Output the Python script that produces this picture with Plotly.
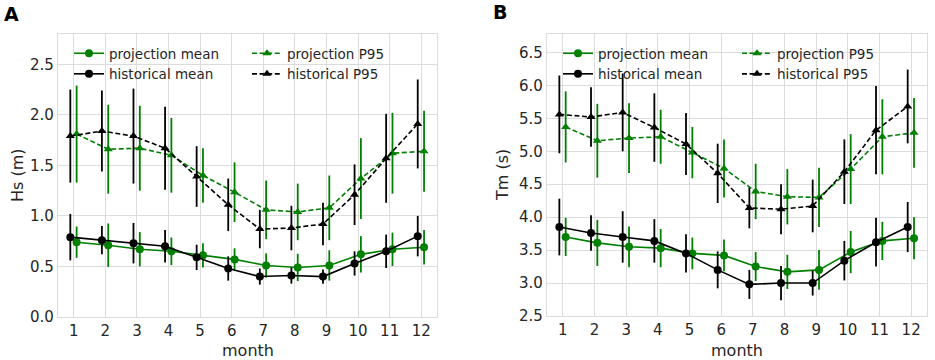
import plotly.graph_objects as go

months = list(range(1, 13))

# Panel A: Hs (m)
hs_hist_mean = [0.79, 0.76, 0.73, 0.70, 0.59, 0.48, 0.40, 0.41, 0.40, 0.53, 0.65, 0.80]
hs_hist_mean_err = [0.23, 0.14, 0.20, 0.16, 0.125, 0.12, 0.08, 0.08, 0.07, 0.12, 0.165, 0.20]
hs_proj_mean = [0.74, 0.71, 0.67, 0.65, 0.61, 0.57, 0.51, 0.49, 0.51, 0.62, 0.67, 0.69]
hs_proj_mean_err = [0.155, 0.215, 0.17, 0.137, 0.12, 0.11, 0.12, 0.135, 0.15, 0.18, 0.165, 0.17]
hs_hist_p95 = [1.79, 1.84, 1.79, 1.67, 1.39, 1.11, 0.87, 0.88, 0.92, 1.21, 1.57, 1.91]
hs_hist_p95_err = [0.46, 0.40, 0.47, 0.41, 0.30, 0.26, 0.19, 0.22, 0.21, 0.30, 0.44, 0.44]
hs_proj_p95 = [1.81, 1.66, 1.67, 1.60, 1.40, 1.235, 1.06, 1.04, 1.08, 1.37, 1.62, 1.64]
hs_proj_p95_err = [0.48, 0.44, 0.42, 0.37, 0.27, 0.295, 0.29, 0.28, 0.32, 0.40, 0.40, 0.40]

# Panel B: Tm (s)
tm_hist_mean = [3.85, 3.76, 3.70, 3.64, 3.45, 3.20, 2.98, 3.00, 3.00, 3.34, 3.62, 3.85]
tm_hist_mean_err = [0.43, 0.27, 0.39, 0.33, 0.29, 0.28, 0.22, 0.26, 0.19, 0.30, 0.37, 0.38]
tm_proj_mean = [3.70, 3.61, 3.55, 3.53, 3.45, 3.42, 3.25, 3.17, 3.20, 3.47, 3.64, 3.68]
tm_proj_mean_err = [0.29, 0.35, 0.31, 0.29, 0.24, 0.24, 0.22, 0.26, 0.30, 0.32, 0.29, 0.32]
tm_hist_p95 = [5.56, 5.52, 5.59, 5.36, 5.11, 4.665, 4.14, 4.12, 4.17, 4.69, 5.32, 5.68]
tm_hist_p95_err = [0.59, 0.45, 0.59, 0.52, 0.47, 0.45, 0.31, 0.38, 0.40, 0.49, 0.67, 0.56]
tm_proj_p95 = [5.37, 5.16, 5.20, 5.22, 4.98, 4.74, 4.39, 4.31, 4.30, 4.73, 5.22, 5.28]
tm_proj_p95_err = [0.54, 0.56, 0.53, 0.41, 0.39, 0.44, 0.42, 0.42, 0.45, 0.53, 0.57, 0.53]

hs_ticks = [0.0, 0.5, 1.0, 1.5, 2.0, 2.5]
tm_ticks = [2.5, 3.0, 3.5, 4.0, 4.5, 5.0, 5.5, 6.0, 6.5]

GREEN = "#008000"
BLACK = "#000000"
W, H = 935, 360
HIST_OFF, PROJ_OFF = -0.11, 0.09

fig = go.Figure()


def add_series(xa, ya, y, err, off, color, dash, symbol, name, legend):
    fig.add_trace(go.Scatter(
        x=[m + off for m in months], y=y, xaxis=xa, yaxis=ya,
        mode="lines+markers", name=name, legend=legend, showlegend=True,
        line=dict(color=color, width=1.6, dash=dash),
        marker=dict(color=color, size=8, symbol=symbol),
        error_y=dict(type="data", array=err, visible=True, color=color, thickness=1.8, width=0),
    ))


DASH = "5px,2.6px"
# Panel A
add_series("x", "y", hs_proj_mean, hs_proj_mean_err, PROJ_OFF, GREEN, "solid", "circle", "projection mean", "legend")
add_series("x", "y", hs_hist_mean, hs_hist_mean_err, HIST_OFF, BLACK, "solid", "circle", "historical mean", "legend")
add_series("x", "y", hs_proj_p95, hs_proj_p95_err, PROJ_OFF, GREEN, DASH, "triangle-up", "projection P95", "legend2")
add_series("x", "y", hs_hist_p95, hs_hist_p95_err, HIST_OFF, BLACK, DASH, "triangle-up", "historical P95", "legend2")
# Panel B
add_series("x2", "y2", tm_proj_mean, tm_proj_mean_err, PROJ_OFF, GREEN, "solid", "circle", "projection mean", "legend3")
add_series("x2", "y2", tm_hist_mean, tm_hist_mean_err, HIST_OFF, BLACK, "solid", "circle", "historical mean", "legend3")
add_series("x2", "y2", tm_proj_p95, tm_proj_p95_err, PROJ_OFF, GREEN, DASH, "triangle-up", "projection P95", "legend4")
add_series("x2", "y2", tm_hist_p95, tm_hist_p95_err, HIST_OFF, BLACK, DASH, "triangle-up", "historical P95", "legend4")

FONT = "DejaVu Sans"
GRID = "#dcdcdc"
axis_common = dict(
    showgrid=True, gridcolor=GRID, gridwidth=1.3, zeroline=False,
    showline=True, linecolor=GRID, linewidth=1.3, mirror=True, automargin=False,
    ticks="", tickfont=dict(family=FONT, size=15, color="#262626"),
)

def px_x(p):
    return p / W

def px_y(p):
    return 1 - p / H

fig.update_layout(
    width=W, height=H,
    margin=dict(l=0, r=0, t=0, b=0),
    paper_bgcolor="white", plot_bgcolor="white",
    font=dict(family=FONT, color="#262626"),
    xaxis=dict(domain=[px_x(58), px_x(437)], range=[0.5, 12.5], tickvals=months,
               ticktext=[str(m) for m in months], anchor="y", **axis_common),
    yaxis=dict(domain=[px_y(317), px_y(34)], range=[0, 2.8], tickvals=hs_ticks,
               ticktext=[f"{v:.1f}" for v in hs_ticks], anchor="x", **axis_common),
    xaxis2=dict(domain=[px_x(547), px_x(927)], range=[0.5, 12.5], tickvals=months,
                ticktext=[str(m) for m in months], anchor="y2", **axis_common),
    yaxis2=dict(domain=[px_y(316), px_y(34)], range=[2.5, 6.78], tickvals=tm_ticks,
                ticktext=[f"{v:.1f}" for v in tm_ticks], anchor="x2", **axis_common),
)

leg_common = dict(bgcolor="rgba(0,0,0,0)", borderwidth=0, font=dict(family=FONT, size=13.5, color="#262626"),
                  xanchor="left", yanchor="top", orientation="v", tracegroupgap=0, itemwidth=30,
                  traceorder="normal")
fig.update_layout(
    legend=dict(x=px_x(69), y=px_y(38), **leg_common),
    legend2=dict(x=px_x(247), y=px_y(38), **leg_common),
    legend3=dict(x=px_x(558), y=px_y(38), **leg_common),
    legend4=dict(x=px_x(737), y=px_y(38), **leg_common),
)

def note(text, x, y, size, angle=0):
    return dict(text=text, x=px_x(x), y=px_y(y), xref="paper", yref="paper",
                xanchor="center", yanchor="middle", textangle=angle, showarrow=False,
                font=dict(family=FONT, size=size, color="#262626" if "<b>" not in text else "black"))

ann = [
    note("<b>A</b>", 11, 14, 19),
    note("<b>B</b>", 500, 12, 19),
    note("month", 247.5, 350, 16),
    note("month", 737, 350, 16),
    note("Hs (m)", 17, 175, 16, -90),
    note("Tm (s)", 502, 175, 16, -90),
]
fig.update_layout(annotations=ann)

fig.write_html("out.html", config={"displayModeBar": False},
               post_script="document.body.style.margin='0';document.body.style.overflow='hidden';")
